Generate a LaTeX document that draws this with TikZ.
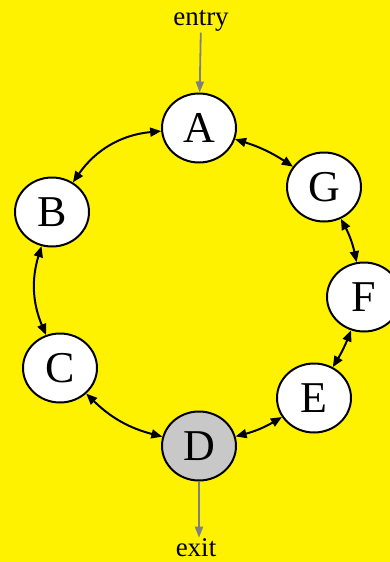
\documentclass[tikz,border=0pt]{standalone}
\usepackage{fontspec}
\setmainfont{Liberation Serif}
\usetikzlibrary{arrows.meta,shapes.geometric}

\begin{document}
\begin{tikzpicture}[x=1pt, y=-1pt,
  >={Triangle[length=11pt, width=9pt]},
  state/.style={draw, ellipse, line width=2pt, fill=white, inner sep=0pt,
    minimum width=74pt, minimum height=69pt, font=\fontsize{44}{44}\selectfont},
  link/.style={<->, line width=2pt},
  io/.style={->, draw=gray, line width=1.8pt, >={Triangle[length=11pt, width=8pt, fill=gray]}},
  lab/.style={font=\fontsize{27}{27}\selectfont, inner sep=1pt}]
  \fill[yellow] (0,0) rectangle (390,562);
  \useasboundingbox (0,0) rectangle (390,562);
  \node[state] (A) at (199,128) {A};
  \node[state] (G) at (324,187) {G};
  \node[state] (F) at (364,297) {F};
  \node[state] (E) at (314,398) {E};
  \node[state, fill={rgb,255:red,200;green,200;blue,200}] (D) at (199,446) {D};
  \node[state] (C) at (60,368) {C};
  \node[state] (B) at (52,212) {B};
  \node[lab] (entry) at (201,21) {entry};
  \node[lab] (exit) at (196,548) {exit};
  \draw[link] (A) to[bend right=25] (B);
  \draw[link] (B) to[bend right=20] (C);
  \draw[link] (C) to[bend right=15] (D);
  \draw[link] (D) to[bend right=8] (E);
  \draw[link] (E) to[bend right=5] (F);
  \draw[link] (F) to[bend right=8] (G);
  \draw[link] (G) to[bend right=8] (A);
  \draw[io] (entry) -- (A);
  \draw[io] (D) -- (D |- exit.north);
\end{tikzpicture}
\end{document}
